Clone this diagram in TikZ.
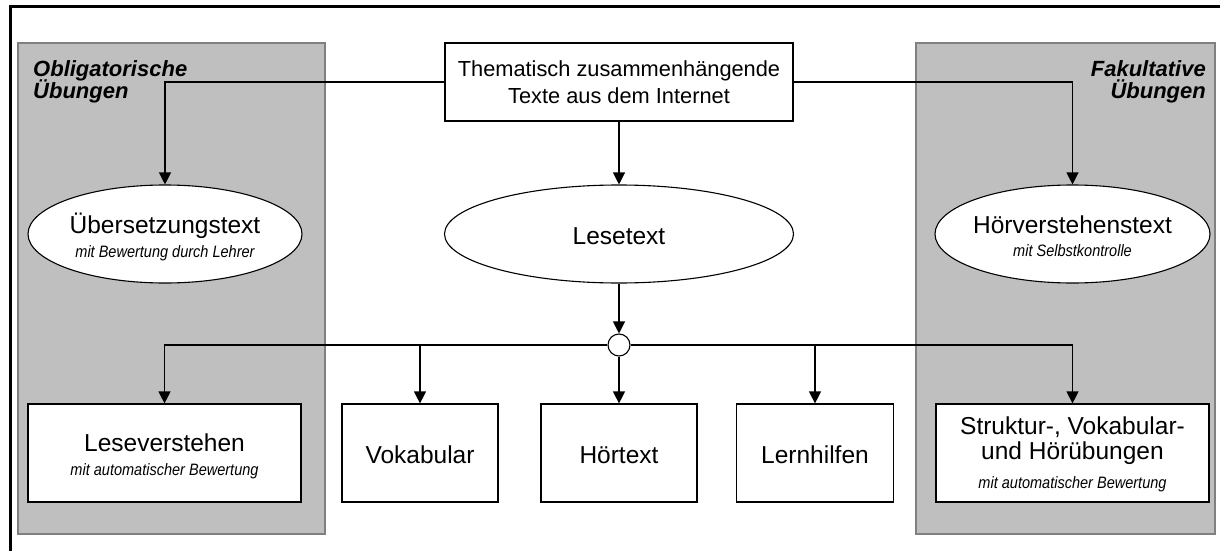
\documentclass[tikz,border=0pt]{standalone}
\usepackage{fontspec}
\setmainfont{Liberation Sans}
\usetikzlibrary{arrows.meta,shapes.geometric}

% condensed italic sub-line
\newcommand\subtxt[1]{\scalebox{0.88}[1]{\itshape #1}}

\begin{document}
\begin{tikzpicture}[x=1pt,y=-1pt,
  panel/.style={draw=black!50,fill=black!25,line width=1.5pt},
  boxnode/.style={draw=black,fill=white,line width=1.2pt,rectangle,inner sep=0pt},
  ellnode/.style={draw=black,fill=white,line width=1.1pt,ellipse,inner sep=0pt},
  junction/.style={draw=black,fill=white,line width=1.1pt,circle,inner sep=0pt,minimum size=22pt},
  conn/.style={draw=black,line width=1.2pt},
  arr/.style={conn,-{Triangle[length=12pt,width=12pt]}},
  title/.style={anchor=base,inner sep=0pt,font=\fontsize{24.5}{26}\selectfont},
  toptext/.style={anchor=base,inner sep=0pt,font=\fontsize{21.8}{24}\selectfont},
  subline/.style={anchor=base,inner sep=0pt,font=\fontsize{16.5}{19}\selectfont},
  headL/.style={anchor=base west,inner sep=0pt,font=\fontsize{22}{23}\selectfont\bfseries\itshape},
  headR/.style={anchor=base east,inner sep=0pt,font=\fontsize{22}{23}\selectfont\bfseries\itshape},
]
\useasboundingbox (0,0) rectangle (1220,551);

% outer frame (top and left edges)
\draw[line width=3pt] (10,551) -- (10,7) -- (1220,7);

% shaded panels
\draw[panel] (18,43) rectangle (325,534);
\draw[panel] (916,43) rectangle (1215,534);

% panel headings
\node[headL] (obl1) at (33,77) {Obligatorische};
\node[headL] (obl2) at (33,98) {Übungen};
\node[headR] (fak1) at (1206,76) {Fakultative};
\node[headR] (fak2) at (1206,98) {Übungen};

% source box
\node[boxnode,minimum width=348pt,minimum height=78pt] (src) at (619,82) {};
\node[toptext] (src1) at (619,77) {Thematisch zusammenhängende};
\node[toptext] (src2) at (619,103) {Texte aus dem Internet};

% ellipses
\node[ellnode,minimum width=274pt,minimum height=98pt] (ueb) at (165,234) {};
\node[title] (ueb1) at (165,233) {Übersetzungstext};
\node[subline] (ueb2) at (165,257) {\subtxt{mit Bewertung durch Lehrer}};

\node[ellnode,minimum width=349pt,minimum height=98pt] (les) at (619,234) {};
\node[title] (les1) at (619,244) {Lesetext};

\node[ellnode,minimum width=275pt,minimum height=98pt] (hoe) at (1072.5,234) {};
\node[title] (hoe1) at (1072.5,233) {Hörverstehenstext};
\node[subline] (hoe2) at (1072.5,256) {\subtxt{mit Selbstkontrolle}};

% bottom boxes
\node[boxnode,minimum width=273pt,minimum height=98pt] (lv) at (164.5,453) {};
\node[title] (lv1) at (164.5,451) {Leseverstehen};
\node[subline] (lv2) at (164.5,475) {\subtxt{mit automatischer Bewertung}};

\node[boxnode,minimum width=156pt,minimum height=98pt] (vok) at (420,453) {};
\node[title] (vok1) at (420,463) {Vokabular};

\node[boxnode,minimum width=156pt,minimum height=98pt] (hoet) at (619,453) {};
\node[title] (hoet1) at (619,463) {Hörtext};

\node[boxnode,minimum width=157pt,minimum height=98pt] (lern) at (815,453) {};
\node[title] (lern1) at (815,463) {Lernhilfen};

\node[boxnode,minimum width=273pt,minimum height=98pt] (str) at (1072.5,453) {};
\node[title] (str1) at (1072.5,434) {Struktur-, Vokabular-};
\node[title] (str2) at (1072.5,459) {und Hörübungen};
\node[subline] (str3) at (1072.5,488) {\subtxt{mit automatischer Bewertung}};

% connectors from the source box
\draw[arr] (src.west) -| (ueb.north);
\draw[arr] (src.east) -| (hoe.north);
\draw[arr] (src.south) -- (les.north);

% distribution junction
\node[junction] (junc) at (619,345) {};
\draw[arr] (les.south) -- (junc.north);
\draw[arr] (junc.west) -| (lv.north);
\draw[arr] (junc.west) -| (vok.north);
\draw[arr] (junc.south) -- (hoet.north);
\draw[arr] (junc.east) -| (lern.north);
\draw[arr] (junc.east) -| (str.north);
\end{tikzpicture}
\end{document}
